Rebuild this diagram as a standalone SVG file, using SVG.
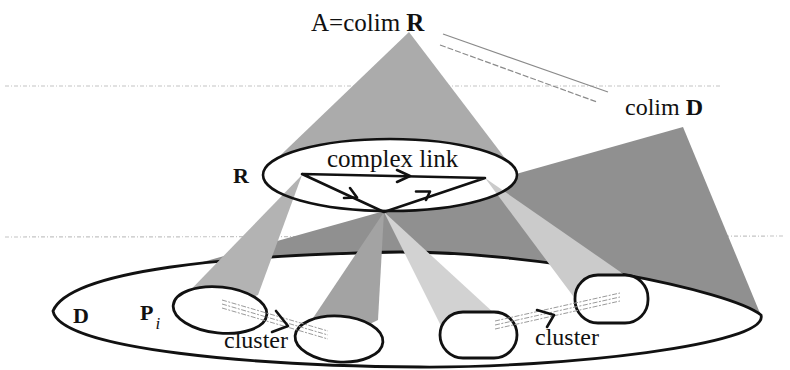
<svg xmlns="http://www.w3.org/2000/svg" width="790" height="370" viewBox="0 0 790 370">
  <style>
    .b { font-weight: bold; }
    .line { fill: none; stroke: #111; stroke-width: 2.6; stroke-linejoin: round; stroke-linecap: round; }
    .node { fill: #fff; stroke: #111; stroke-width: 2.8; }
    .faint { stroke: #c4c4c4; stroke-width: 1.2; stroke-dasharray: 4 2 1 2; fill: none; }
    .dbl { stroke: #9a9a9a; stroke-width: 1; stroke-dasharray: 5 1.5 2 1.5; fill: none; }
    .eq { stroke: #8a8a8a; stroke-width: 1.2; fill: none; }
  </style>

  <!-- faint scan guide lines -->
  <g id="guides">
    <line class="faint" x1="5" y1="86" x2="720" y2="86"/>
    <line class="faint" x1="5" y1="237" x2="785" y2="236"/>
  </g>

  <!-- cones (colimit cocones) -->
  <g id="cones">
    <polygon id="cone-colimR" points="409,32 263,172 390,175 517,174" fill="#ababab"/>
    <polygon id="cone-colimD" points="185,267 683,127 762,318 420,300" fill="#909090"/>
  </g>

  <g id="node-D">
    <path class="node" d="M53,311 C70,270 230,255 400,252 C540,252 730,290 761,315 C770,345 560,368 420,367 C260,366 60,350 53,311 Z"/>
  </g>

  <g id="node-R-fill">
    <ellipse cx="390" cy="175" rx="127" ry="36" fill="#fff"/>
  </g>

  <g id="link-cones">
    <polygon points="302,175 175,306 220,310 258,295" fill="#b3b3b3"/>
    <polygon points="384,212 303,333 339,339 378,320" fill="#a3a3a3"/>
    <polygon points="384,212 441,326 478,335 495,314" fill="#d2d2d2"/>
    <polygon points="485,178 576,300 612,298 632,280" fill="#cbcbcb"/>
  </g>

  <g id="node-R">
    <ellipse cx="390" cy="175" rx="127" ry="36" fill="none" stroke="#111" stroke-width="2.6"/>
  </g>

  <!-- cluster nodes -->
  <g id="node-Pi">
    <ellipse class="node" cx="220" cy="310" rx="47" ry="23" transform="rotate(6 220 310)"/>
  </g>
  <g id="node-c2">
    <ellipse class="node" cx="339" cy="339" rx="44" ry="23" transform="rotate(4 339 339)"/>
  </g>
  <g id="node-c3">
    <rect class="node" x="440" y="312" width="77" height="46" rx="23" ry="23"/>
  </g>
  <g id="node-c4">
    <rect class="node" x="575" y="275" width="73" height="48" rx="23" ry="23"/>
  </g>

  <!-- connectors -->
  <g id="connectors">
    <!-- complex link triangle -->
    <path class="line" d="M302,174 L485,178 L384,212 Z"/>
    <polyline class="line" points="397,170 410,176 397,182"/>
    <polyline class="line" points="350,188 357,197.5 344,198"/>
    <polyline class="line" points="416,191.5 430,191.5 426,200"/>
    <!-- double line A to colim D -->
    <line class="eq" x1="443" y1="34" x2="608" y2="92"/>
    <line class="eq" x1="440" y1="45" x2="597" y2="102" stroke-dasharray="6 2"/>
    <!-- cluster links (left) -->
    <line class="dbl" x1="222" y1="300" x2="328" y2="331"/>
    <line class="dbl" x1="222" y1="304" x2="328" y2="335"/>
    <line class="dbl" x1="222" y1="308" x2="328" y2="339"/>
    <polyline class="line" points="276,311 288,326 272,332"/>
    <!-- cluster links (right) -->
    <line class="dbl" x1="495" y1="321" x2="620" y2="293"/>
    <line class="dbl" x1="495" y1="325" x2="620" y2="297"/>
    <line class="dbl" x1="495" y1="329" x2="620" y2="301"/>
    <polyline class="line" points="537,310 554,315 547,327"/>
  </g>

  <!-- labels -->
  <g id="labels" font-family="'Liberation Serif', 'Times New Roman', 'DejaVu Serif', serif" fill="#111">
    <text x="311" y="31" font-size="25">A=colim <tspan font-weight="bold">R</tspan></text>
    <text x="625" y="115" font-size="24">colim <tspan font-weight="bold">D</tspan></text>
    <text x="327" y="167" font-size="25">complex link</text>
    <text x="233" y="183" font-size="22" font-weight="bold">R</text>
    <text x="73" y="323" font-size="22" font-weight="bold">D</text>
    <text x="140" y="320" font-size="22"><tspan font-weight="bold">P</tspan><tspan font-style="italic" font-size="17" dx="2" dy="9">i</tspan></text>
    <text x="224" y="348" font-size="24">cluster</text>
    <text x="535" y="345" font-size="24">cluster</text>
  </g>
</svg>
